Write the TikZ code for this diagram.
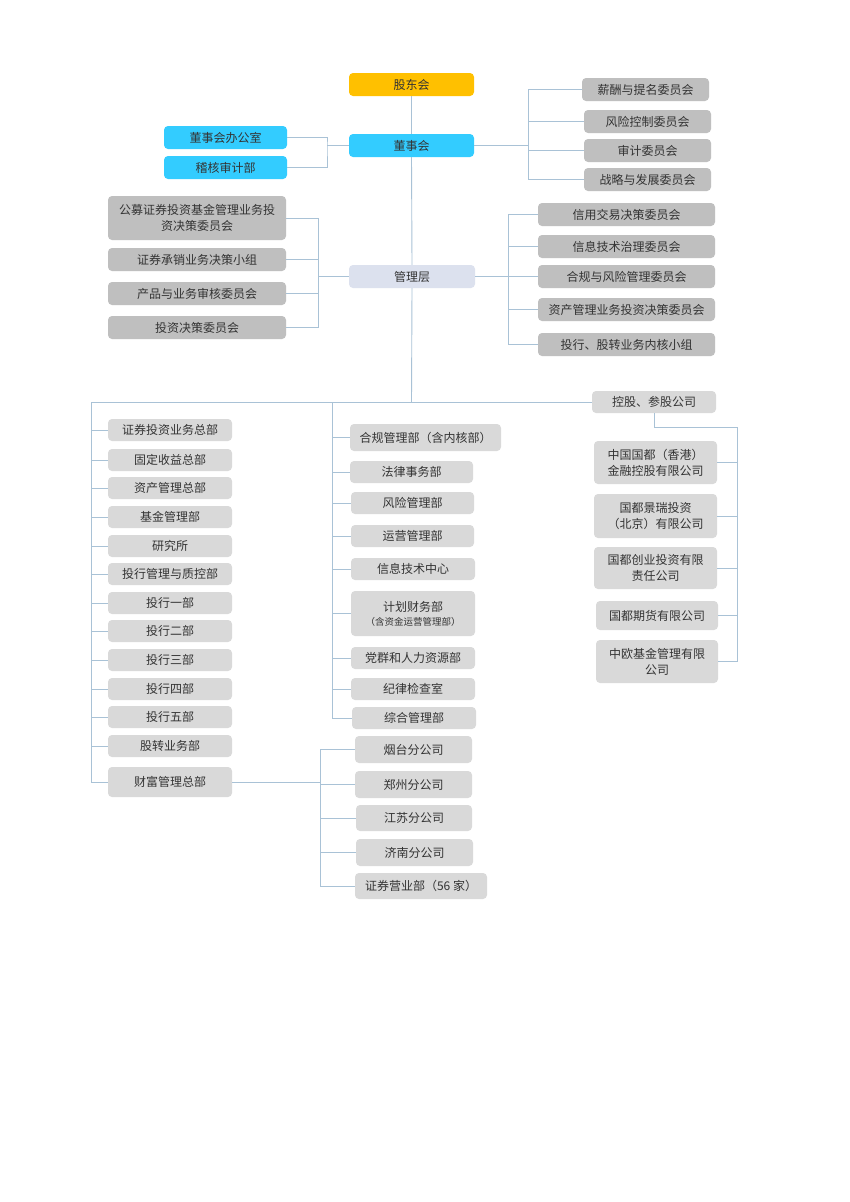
\documentclass[tikz,border=0pt]{standalone}
\usepackage{fontspec}
\newfontfamily\cjk{Noto Sans CJK SC}
\definecolor{cgold}{HTML}{FFC000}
\definecolor{ccyan}{HTML}{33CCFF}
\definecolor{cmgmt}{HTML}{DCE1EE}
\definecolor{cdark}{HTML}{BFBFBF}
\definecolor{clight}{HTML}{D9D9D9}
\definecolor{cline}{HTML}{A9C2D6}
\definecolor{ctext}{HTML}{333333}
\begin{document}
\begin{tikzpicture}[x=1pt,y=-1pt,
  base/.style={rounded corners=4pt, inner sep=0pt, align=center, text=ctext,
    font=\cjk\fontsize{12}{16}\selectfont, minimum height=23pt},
  goldbox/.style={base, fill=cgold},
  cyanbox/.style={base, fill=ccyan},
  mgmtbox/.style={base, fill=cmgmt},
  darkbox/.style={base, fill=cdark},
  lightbox/.style={base, fill=clight, minimum height=22pt},
  conn/.style={draw=cline, line width=0.9pt}]
\useasboundingbox (0,0) rectangle (850,1202);
\fill[white] (0,0) rectangle (850,1202);

% top
\node[goldbox, minimum width=125pt] (gdh) at (411.5,84.5) {股东会};
\node[cyanbox, minimum width=125pt] (dsh) at (411.5,145.5) {董事会};
\node[cyanbox, minimum width=123pt] (dbo) at (225.5,137.5) {董事会办公室};
\node[cyanbox, minimum width=123pt] (jh) at (225.5,167.5) {稽核审计部};
\node[darkbox, minimum width=127pt] (c1) at (645.5,89.5) {薪酬与提名委员会};
\node[darkbox, minimum width=127pt] (c2) at (647.5,121.5) {风险控制委员会};
\node[darkbox, minimum width=127pt] (c3) at (647.5,150.5) {审计委员会};
\node[darkbox, minimum width=127pt] (c4) at (647.5,179.5) {战略与发展委员会};

% management
\node[mgmtbox, minimum width=126pt] (glc) at (412,276.5) {管理层};
\node[darkbox, minimum width=178pt, minimum height=44pt] (m1) at (197,218) {公募证券投资基金管理业务投\\资决策委员会};
\node[darkbox, minimum width=178pt] (m2) at (197,259.5) {证券承销业务决策小组};
\node[darkbox, minimum width=178pt] (m3) at (197,293.5) {产品与业务审核委员会};
\node[darkbox, minimum width=178pt] (m4) at (197,327.5) {投资决策委员会};
\node[darkbox, minimum width=177pt] (r1) at (626.5,214.5) {信用交易决策委员会};
\node[darkbox, minimum width=177pt] (r2) at (626.5,246.5) {信息技术治理委员会};
\node[darkbox, minimum width=177pt] (r3) at (626.5,276.5) {合规与风险管理委员会};
\node[darkbox, minimum width=177pt] (r4) at (626.5,309.5) {资产管理业务投资决策委员会};
\node[darkbox, minimum width=177pt] (r5) at (626.5,344.5) {投行、股转业务内核小组};

% left column
\node[lightbox, minimum width=124pt] (l1) at (170,430) {证券投资业务总部};
\node[lightbox, minimum width=124pt] (l2) at (170,460) {固定收益总部};
\node[lightbox, minimum width=124pt] (l3) at (170,488) {资产管理总部};
\node[lightbox, minimum width=124pt] (l4) at (170,517) {基金管理部};
\node[lightbox, minimum width=124pt] (l5) at (170,546) {研究所};
\node[lightbox, minimum width=124pt] (l6) at (170,574) {投行管理与质控部};
\node[lightbox, minimum width=124pt] (l7) at (170,603) {投行一部};
\node[lightbox, minimum width=124pt] (l8) at (170,631) {投行二部};
\node[lightbox, minimum width=124pt] (l9) at (170,660) {投行三部};
\node[lightbox, minimum width=124pt] (l10) at (170,689) {投行四部};
\node[lightbox, minimum width=124pt] (l11) at (170,717) {投行五部};
\node[lightbox, minimum width=124pt] (l12) at (170,746) {股转业务部};
\node[lightbox, minimum width=124pt, minimum height=30pt] (l13) at (170,782) {财富管理总部};

% middle column
\node[lightbox, minimum width=151pt, minimum height=27pt] (d1) at (425.5,437.5) {合规管理部（含内核部）};
\node[lightbox, minimum width=123pt] (d2) at (411.5,472) {法律事务部};
\node[lightbox, minimum width=123pt] (d3) at (412.5,503) {风险管理部};
\node[lightbox, minimum width=123pt] (d4) at (412.5,536) {运营管理部};
\node[lightbox, minimum width=124pt] (d5) at (413,569) {信息技术中心};
\node[lightbox, minimum width=124pt, minimum height=45pt] (d6) at (413,613.5) {计划财务部\\[-2pt]{\fontsize{9.5}{11}\selectfont （含资金运营管理部）}};
\node[lightbox, minimum width=124pt] (d7) at (413,658) {党群和人力资源部};
\node[lightbox, minimum width=124pt] (d8) at (413,689) {纪律检查室};
\node[lightbox, minimum width=124pt] (d9) at (414,718) {综合管理部};

% right column
\node[lightbox, minimum width=124pt] (kg) at (654,402) {控股、参股公司};
\node[lightbox, minimum width=123pt, minimum height=43pt] (s1) at (655.5,462.5) {中国国都（香港）\\金融控股有限公司};
\node[lightbox, minimum width=123pt, minimum height=44pt] (s2) at (655.5,516) {国都景瑞投资\\（北京）有限公司};
\node[lightbox, minimum width=123pt, minimum height=42pt] (s3) at (655.5,568) {国都创业投资有限\\责任公司};
\node[lightbox, minimum width=122pt, minimum height=29pt] (s4) at (657,615.5) {国都期货有限公司};
\node[lightbox, minimum width=122pt, minimum height=43pt] (s5) at (657,661.5) {中欧基金管理有限\\公司};

% branches
\node[lightbox, minimum width=117pt, minimum height=27pt] (b1) at (413.5,749.5) {烟台分公司};
\node[lightbox, minimum width=117pt, minimum height=27pt] (b2) at (413.5,784.5) {郑州分公司};
\node[lightbox, minimum width=116pt, minimum height=26pt] (b3) at (414,818) {江苏分公司};
\node[lightbox, minimum width=117pt, minimum height=27pt] (b4) at (414.5,852.5) {济南分公司};
\node[lightbox, minimum width=132pt, minimum height=26pt] (b5) at (421,886) {证券营业部（56 家）};

% coordinates
\coordinate (bxL) at (327,145.5);
\coordinate (bxR) at (528,145.5);
\coordinate (mxL) at (318,276.5);
\coordinate (mxR) at (508,276.5);
\coordinate (bus) at (411.5,402);
\coordinate (busL) at (91,402);
\coordinate (busM) at (332,402);
\coordinate (sx) at (737,427);
\coordinate (bx) at (320,782);

% connectors
\draw[conn] (gdh.south) -- (dsh.north);
\draw[conn] (dsh.south) -- (glc.north);
\draw[conn] (glc.south) -- (bus);
\draw[conn] (dbo.east) -| (bxL) |- (jh.east);
\draw[conn] (bxL) -- (dsh.west);
\draw[conn] (dsh.east) -- (bxR);
\draw[conn] (bxR |- c1.west) -- (bxR |- c4.west);
\foreach \n in {c1,c2,c3,c4} \draw[conn] (bxR |- \n.west) -- (\n.west);
\draw[conn] (mxL) -- (glc.west);
\draw[conn] (mxL |- m1.east) -- (mxL |- m4.east);
\foreach \n in {m1,m2,m3,m4} \draw[conn] (\n.east) -- (mxL |- \n.east);
\draw[conn] (glc.east) -- (mxR);
\draw[conn] (mxR |- r1.west) -- (mxR |- r5.west);
\foreach \n in {r1,r2,r3,r4,r5} \draw[conn] (mxR |- \n.west) -- (\n.west);
\draw[conn] (busL) -- (kg.west);
\draw[conn] (busL) |- (l13.west);
\foreach \n in {l1,l2,l3,l4,l5,l6,l7,l8,l9,l10,l11,l12} \draw[conn] (busL |- \n.west) -- (\n.west);
\draw[conn] (busM) |- (d9.west);
\foreach \n in {d1,d2,d3,d4,d5,d6,d7,d8} \draw[conn] (busM |- \n.west) -- (\n.west);
\draw[conn] (kg.south) |- (sx) |- (s5.east);
\foreach \n in {s1,s2,s3,s4} \draw[conn] (sx |- \n.east) -- (\n.east);
\draw[conn] (l13.east) -- (bx);
\draw[conn] (bx |- b1.west) -- (bx |- b5.west);
\foreach \n in {b1,b2,b3,b4,b5} \draw[conn] (bx |- \n.west) -- (\n.west);
\end{tikzpicture}
\end{document}
